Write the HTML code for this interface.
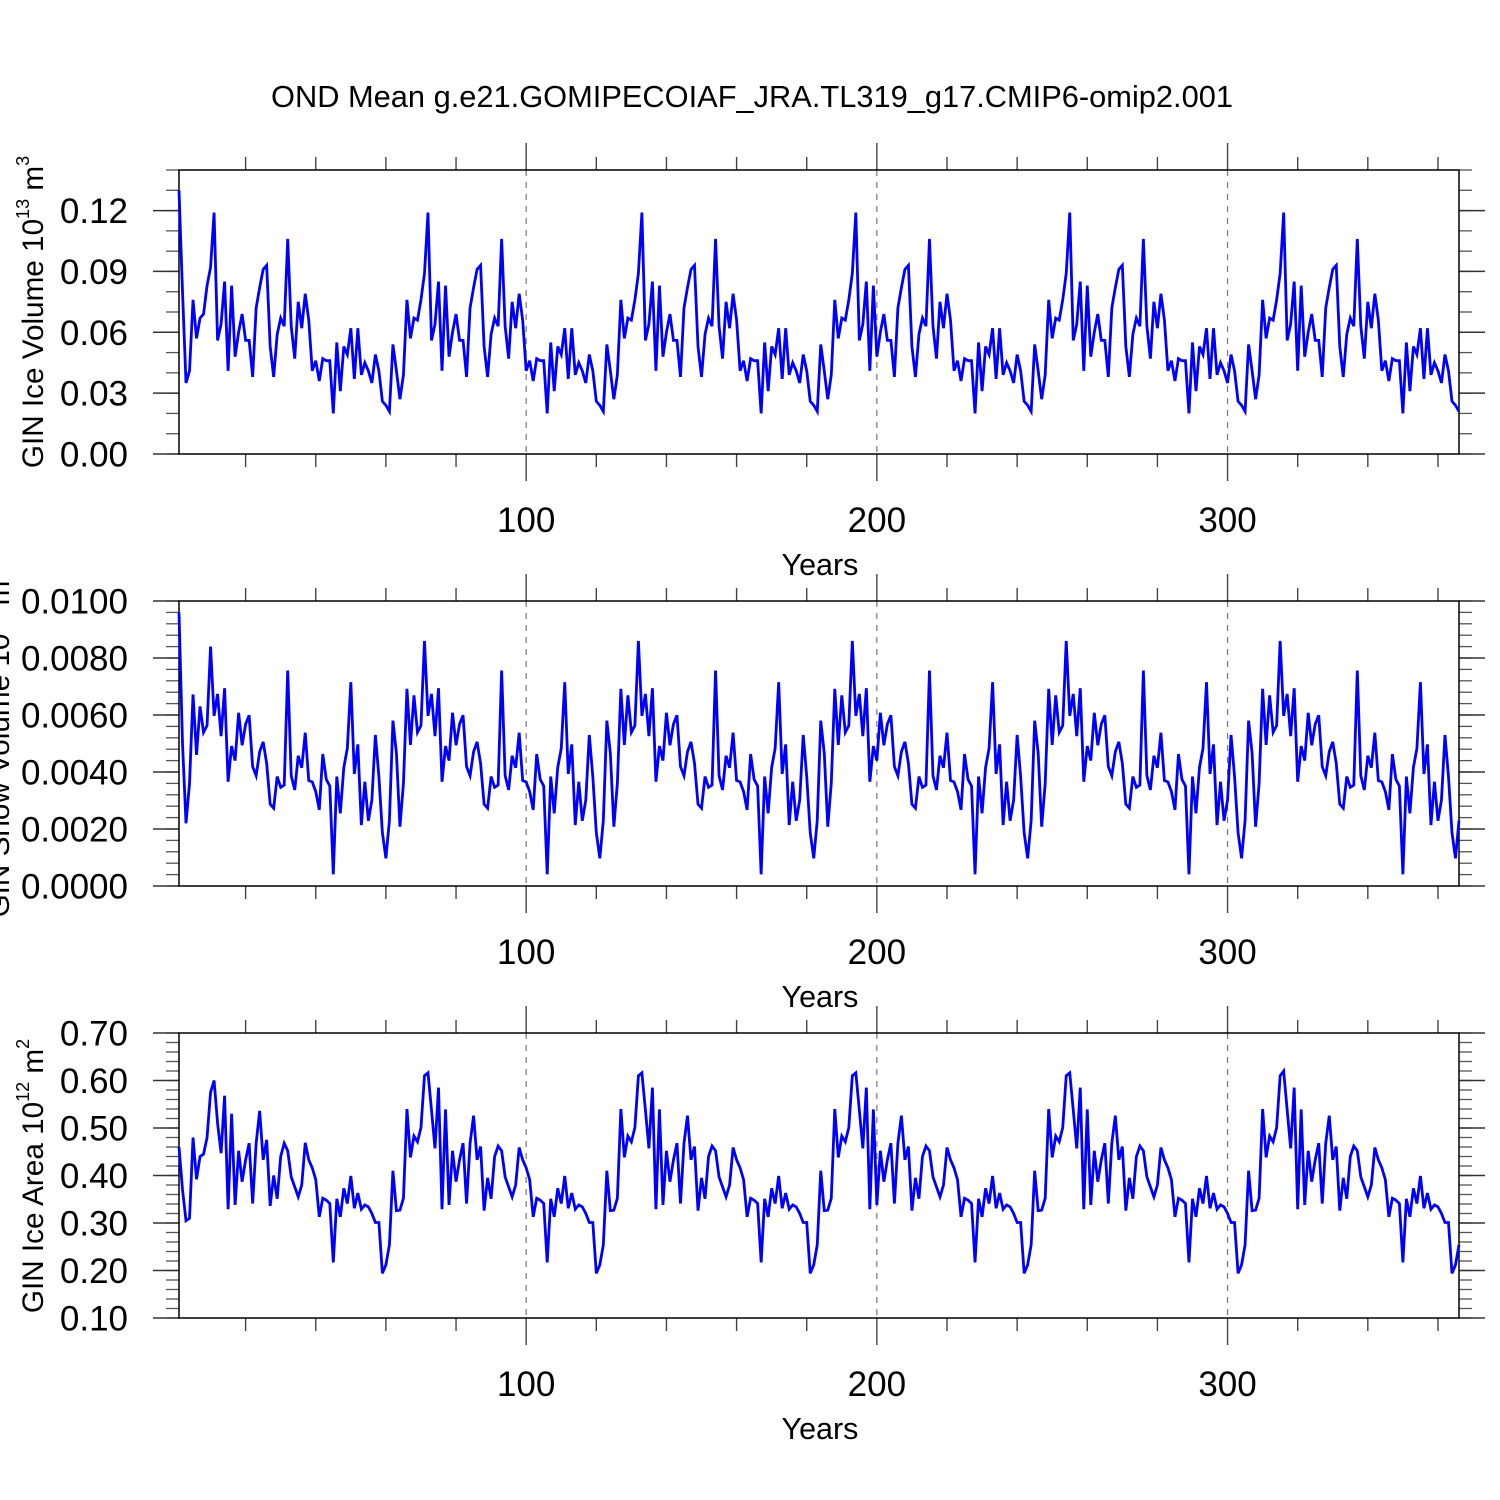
<!DOCTYPE html>
<html><head><meta charset="utf-8"><style>
html,body{margin:0;padding:0;background:#fff;}
svg{display:block;font-family:"Liberation Sans",Arial,sans-serif;}
</style></head><body>
<svg id="chart" width="1500" height="1500" viewBox="0 0 1500 1500">
<text x="752" y="107" font-size="30.8" text-anchor="middle">OND Mean g.e21.GOMIPECOIAF_JRA.TL319_g17.CMIP6-omip2.001</text>
<text transform="translate(43,312) rotate(-90)" font-size="29.7" text-anchor="middle">GIN Ice Volume 10<tspan font-size="18" dy="-14">13</tspan><tspan dy="14"> m</tspan><tspan font-size="18" dy="-14">3</tspan></text>
<text transform="translate(9,744) rotate(-90)" font-size="29.7" text-anchor="middle">GIN Snow Volume 10<tspan font-size="18" dy="-14">13</tspan><tspan dy="14"> m</tspan><tspan font-size="18" dy="-14">3</tspan></text>
<text transform="translate(43,1176) rotate(-90)" font-size="29.7" text-anchor="middle">GIN Ice Area 10<tspan font-size="18" dy="-14">12</tspan><tspan dy="14"> m</tspan><tspan font-size="18" dy="-14">2</tspan></text>
</svg>
<script>
const years = [];
for (let i = 1; i <= 366; i++) years.push(i);
const xTickLabels = [100, 200, 300];
const iceVolume = [
0.130,0.080,0.035,0.041,0.076,0.057,0.067,0.069,0.083,0.092,0.119,0.056,0.064,0.085,0.041,0.083,0.048,0.060,0.069,0.056,0.056,0.038,0.072,0.082,0.091,0.093,0.053,0.038,0.059,0.067,0.063,0.106,0.063,0.047,0.075,0.062,0.079,0.066,0.041,0.046,0.036,0.047,0.046,0.046,0.020,0.055,0.031,0.053,0.049,0.062,0.037,0.062,0.039,0.045,0.041,0.035,0.049,0.041,0.026,0.024,0.021,
0.054,0.041,0.027,0.039,0.076,0.057,0.067,0.066,0.076,0.089,0.119,0.056,0.064,0.085,0.041,0.083,0.048,0.060,0.069,0.056,0.056,0.038,0.072,0.082,0.091,0.093,0.053,0.038,0.059,0.067,0.063,0.106,0.063,0.047,0.075,0.062,0.079,0.066,0.041,0.046,0.036,0.047,0.046,0.046,0.020,0.055,0.031,0.053,0.049,0.062,0.037,0.062,0.039,0.045,0.041,0.035,0.049,0.041,0.026,0.024,0.021,
0.054,0.041,0.027,0.039,0.076,0.057,0.067,0.066,0.076,0.089,0.119,0.056,0.064,0.085,0.041,0.083,0.048,0.060,0.069,0.056,0.056,0.038,0.072,0.082,0.091,0.093,0.053,0.038,0.059,0.067,0.063,0.106,0.063,0.047,0.075,0.062,0.079,0.066,0.041,0.046,0.036,0.047,0.046,0.046,0.020,0.055,0.031,0.053,0.049,0.062,0.037,0.062,0.039,0.045,0.041,0.035,0.049,0.041,0.026,0.024,0.021,
0.054,0.041,0.027,0.039,0.076,0.057,0.067,0.066,0.076,0.089,0.119,0.056,0.064,0.085,0.041,0.083,0.048,0.060,0.069,0.056,0.056,0.038,0.072,0.082,0.091,0.093,0.053,0.038,0.059,0.067,0.063,0.106,0.063,0.047,0.075,0.062,0.079,0.066,0.041,0.046,0.036,0.047,0.046,0.046,0.020,0.055,0.031,0.053,0.049,0.062,0.037,0.062,0.039,0.045,0.041,0.035,0.049,0.041,0.026,0.024,0.021,
0.054,0.041,0.027,0.039,0.076,0.057,0.067,0.066,0.076,0.089,0.119,0.056,0.064,0.085,0.041,0.083,0.048,0.060,0.069,0.056,0.056,0.038,0.072,0.082,0.091,0.093,0.053,0.038,0.059,0.067,0.063,0.106,0.063,0.047,0.075,0.062,0.079,0.066,0.041,0.046,0.036,0.047,0.046,0.046,0.020,0.055,0.031,0.053,0.049,0.062,0.037,0.062,0.039,0.045,0.041,0.035,0.049,0.041,0.026,0.024,0.021,
0.054,0.041,0.027,0.039,0.076,0.057,0.067,0.066,0.076,0.089,0.119,0.056,0.064,0.085,0.041,0.083,0.048,0.060,0.069,0.056,0.056,0.038,0.072,0.082,0.091,0.093,0.053,0.038,0.059,0.067,0.063,0.106,0.063,0.047,0.075,0.062,0.079,0.066,0.041,0.046,0.036,0.047,0.046,0.046,0.020,0.055,0.031,0.053,0.049,0.062,0.037,0.062,0.039,0.045,0.041,0.035,0.049,0.041,0.026,0.024,0.021
];
const snowVolume = [
0.0096,0.0050,0.00220,0.0036,0.00672,0.00460,0.00630,0.00539,0.00563,0.0084,0.00597,0.00674,0.00526,0.00694,0.00366,0.00491,0.0044,0.00608,0.00494,0.00568,0.00599,0.00419,0.00387,0.00471,0.00506,0.0043,0.00287,0.00273,0.00384,0.00346,0.00354,0.00756,0.00387,0.00337,0.00457,0.00415,0.00538,0.0037,0.00365,0.00331,0.00267,0.00463,0.00374,0.00351,0.00041,0.00384,0.00255,0.00416,0.00483,0.00715,0.00393,0.00497,0.00214,0.00366,0.00229,0.00302,0.0053,0.00384,0.00187,0.00097,0.0023,
0.0058,0.00466,0.00208,0.0036,0.00692,0.00495,0.00669,0.00539,0.00563,0.0086,0.00597,0.00674,0.00526,0.00694,0.00366,0.00491,0.0044,0.00608,0.00494,0.00568,0.00599,0.00419,0.00387,0.00471,0.00506,0.0043,0.00287,0.00273,0.00384,0.00346,0.00354,0.00756,0.00387,0.00337,0.00457,0.00415,0.00538,0.0037,0.00365,0.00331,0.00267,0.00463,0.00374,0.00351,0.00041,0.00384,0.00255,0.00416,0.00483,0.00715,0.00393,0.00497,0.00214,0.00366,0.00229,0.00302,0.0053,0.00384,0.00187,0.00097,0.0023,
0.0058,0.00466,0.00208,0.0036,0.00692,0.00495,0.00669,0.00539,0.00563,0.0086,0.00597,0.00674,0.00526,0.00694,0.00366,0.00491,0.0044,0.00608,0.00494,0.00568,0.00599,0.00419,0.00387,0.00471,0.00506,0.0043,0.00287,0.00273,0.00384,0.00346,0.00354,0.00756,0.00387,0.00337,0.00457,0.00415,0.00538,0.0037,0.00365,0.00331,0.00267,0.00463,0.00374,0.00351,0.00041,0.00384,0.00255,0.00416,0.00483,0.00715,0.00393,0.00497,0.00214,0.00366,0.00229,0.00302,0.0053,0.00384,0.00187,0.00097,0.0023,
0.0058,0.00466,0.00208,0.0036,0.00692,0.00495,0.00669,0.00539,0.00563,0.0086,0.00597,0.00674,0.00526,0.00694,0.00366,0.00491,0.0044,0.00608,0.00494,0.00568,0.00599,0.00419,0.00387,0.00471,0.00506,0.0043,0.00287,0.00273,0.00384,0.00346,0.00354,0.00756,0.00387,0.00337,0.00457,0.00415,0.00538,0.0037,0.00365,0.00331,0.00267,0.00463,0.00374,0.00351,0.00041,0.00384,0.00255,0.00416,0.00483,0.00715,0.00393,0.00497,0.00214,0.00366,0.00229,0.00302,0.0053,0.00384,0.00187,0.00097,0.0023,
0.0058,0.00466,0.00208,0.0036,0.00692,0.00495,0.00669,0.00539,0.00563,0.0086,0.00597,0.00674,0.00526,0.00694,0.00366,0.00491,0.0044,0.00608,0.00494,0.00568,0.00599,0.00419,0.00387,0.00471,0.00506,0.0043,0.00287,0.00273,0.00384,0.00346,0.00354,0.00756,0.00387,0.00337,0.00457,0.00415,0.00538,0.0037,0.00365,0.00331,0.00267,0.00463,0.00374,0.00351,0.00041,0.00384,0.00255,0.00416,0.00483,0.00715,0.00393,0.00497,0.00214,0.00366,0.00229,0.00302,0.0053,0.00384,0.00187,0.00097,0.0023,
0.0058,0.00466,0.00208,0.0036,0.00692,0.00495,0.00669,0.00539,0.00563,0.0086,0.00597,0.00674,0.00526,0.00694,0.00366,0.00491,0.0044,0.00608,0.00494,0.00568,0.00599,0.00419,0.00387,0.00471,0.00506,0.0043,0.00287,0.00273,0.00384,0.00346,0.00354,0.00756,0.00387,0.00337,0.00457,0.00415,0.00538,0.0037,0.00365,0.00331,0.00267,0.00463,0.00374,0.00351,0.00041,0.00384,0.00255,0.00416,0.00483,0.00715,0.00393,0.00497,0.00214,0.00366,0.00229,0.00302,0.0053,0.00384,0.00187,0.00097,0.0023
];
const iceArea = [
0.460,0.370,0.305,0.310,0.480,0.392,0.440,0.445,0.480,0.575,0.600,0.510,0.447,0.568,0.329,0.530,0.338,0.452,0.387,0.433,0.468,0.341,0.468,0.536,0.433,0.475,0.336,0.400,0.351,0.440,0.468,0.452,0.397,0.376,0.355,0.380,0.469,0.433,0.416,0.391,0.313,0.352,0.348,0.341,0.217,0.351,0.313,0.373,0.341,0.399,0.331,0.363,0.329,0.338,0.334,0.320,0.301,0.301,0.194,0.212,0.254,
0.410,0.326,0.327,0.352,0.540,0.438,0.483,0.471,0.501,0.610,0.616,0.538,0.457,0.585,0.329,0.539,0.338,0.452,0.387,0.433,0.468,0.341,0.468,0.526,0.433,0.461,0.326,0.395,0.351,0.440,0.462,0.452,0.397,0.376,0.355,0.380,0.459,0.433,0.416,0.391,0.313,0.352,0.348,0.341,0.217,0.351,0.313,0.373,0.341,0.399,0.331,0.363,0.329,0.338,0.334,0.320,0.301,0.301,0.194,0.212,0.254,
0.410,0.326,0.327,0.352,0.540,0.438,0.483,0.471,0.501,0.610,0.616,0.538,0.457,0.585,0.329,0.539,0.338,0.452,0.387,0.433,0.468,0.341,0.468,0.526,0.433,0.461,0.326,0.395,0.351,0.440,0.462,0.452,0.397,0.376,0.355,0.380,0.459,0.433,0.416,0.391,0.313,0.352,0.348,0.341,0.217,0.351,0.313,0.373,0.341,0.399,0.331,0.363,0.329,0.338,0.334,0.320,0.301,0.301,0.194,0.212,0.254,
0.410,0.326,0.327,0.352,0.540,0.438,0.483,0.471,0.501,0.610,0.616,0.538,0.457,0.585,0.329,0.539,0.338,0.452,0.387,0.433,0.468,0.341,0.468,0.526,0.433,0.461,0.326,0.395,0.351,0.440,0.462,0.452,0.397,0.376,0.355,0.380,0.459,0.433,0.416,0.391,0.313,0.352,0.348,0.341,0.217,0.351,0.313,0.373,0.341,0.399,0.331,0.363,0.329,0.338,0.334,0.320,0.301,0.301,0.194,0.212,0.254,
0.410,0.326,0.327,0.352,0.540,0.438,0.483,0.471,0.501,0.610,0.616,0.538,0.457,0.585,0.329,0.539,0.338,0.452,0.387,0.433,0.468,0.341,0.468,0.526,0.433,0.461,0.326,0.395,0.351,0.440,0.462,0.452,0.397,0.376,0.355,0.380,0.459,0.433,0.416,0.391,0.313,0.352,0.348,0.341,0.217,0.351,0.313,0.373,0.341,0.399,0.331,0.363,0.329,0.338,0.334,0.320,0.301,0.301,0.194,0.212,0.254,
0.410,0.326,0.327,0.352,0.540,0.438,0.483,0.471,0.501,0.610,0.620,0.538,0.457,0.585,0.329,0.539,0.338,0.452,0.387,0.433,0.468,0.341,0.468,0.526,0.433,0.461,0.326,0.395,0.351,0.440,0.462,0.452,0.397,0.376,0.355,0.380,0.459,0.433,0.416,0.391,0.313,0.352,0.348,0.341,0.217,0.351,0.313,0.373,0.341,0.399,0.331,0.363,0.329,0.338,0.334,0.320,0.301,0.301,0.194,0.212,0.254
];
const iceVolumeTicks = [0.00, 0.03, 0.06, 0.09, 0.12];
const snowVolumeTicks = [0.0000, 0.0020, 0.0040, 0.0060, 0.0080, 0.0100];
const iceAreaTicks = [0.10, 0.20, 0.30, 0.40, 0.50, 0.60, 0.70];

const NS = 'http://www.w3.org/2000/svg';
const svg = document.getElementById('chart');
const X0 = 179, X1 = 1459, XMIN = 1, XMAX = 366;
function xScale(yr) { return X0 + (yr - XMIN) * (X1 - X0) / (XMAX - XMIN); }
function mk(tag, attrs, parent) {
  const e = document.createElementNS(NS, tag);
  for (const k in attrs) e.setAttribute(k, attrs[k]);
  (parent || svg).appendChild(e);
  return e;
}
const panels = [
  {key:'ice-volume', data: iceVolume, ticks: iceVolumeTicks, top:170, bot:454, ymin:0, ymax:0.14, minor:0.01, dec:2},
  {key:'snow-volume', data: snowVolume, ticks: snowVolumeTicks, top:601, bot:886, ymin:0, ymax:0.01, minor:0.0004, dec:4},
  {key:'ice-area', data: iceArea, ticks: iceAreaTicks, top:1033, bot:1318, ymin:0.1, ymax:0.7, minor:0.02, dec:2}
];
panels.forEach(p => {
  const g = mk('g', {});
  
  
  const yScale = v => p.bot - (v - p.ymin) * (p.bot - p.top) / (p.ymax - p.ymin);
  xTickLabels.forEach(t => {
    const l = mk('line', {x1:xScale(t), x2:xScale(t), y1:p.top, y2:p.bot, stroke:'#777', 'stroke-width':1.2, 'stroke-dasharray':'6,6'}, g);
    
    
  });
  const n = Math.round((p.ymax - p.ymin) / p.minor);
  for (let i = 0; i <= n; i++) {
    const y = yScale(p.ymin + i * p.minor);
    mk('line', {x1:X0 - 13, x2:X0, y1:y, y2:y, stroke:'#555', 'stroke-width':1.3}, g);
    mk('line', {x1:X1, x2:X1 + 13, y1:y, y2:y, stroke:'#555', 'stroke-width':1.3}, g);
  }
  p.ticks.forEach(v => {
    const y = yScale(v);
    mk('line', {x1:X0 - 26, x2:X0, y1:y, y2:y, stroke:'#333', 'stroke-width':1.5}, g);
    mk('line', {x1:X1, x2:X1 + 26, y1:y, y2:y, stroke:'#333', 'stroke-width':1.5}, g);
    const t = mk('text', {x:128, y:y + 12.5, 'font-size':35, 'text-anchor':'end'}, g);
    
    
    t.textContent = v.toFixed(p.dec);
  });
  for (let yr = 20; yr <= 360; yr += 20) {
    const x = xScale(yr);
    const len = (yr % 100 === 0) ? 27 : 13;
    mk('line', {x1:x, x2:x, y1:p.top - len, y2:p.top, stroke:'#444', 'stroke-width':1.4}, g);
    mk('line', {x1:x, x2:x, y1:p.bot, y2:p.bot + len, stroke:'#444', 'stroke-width':1.4}, g);
  }
  xTickLabels.forEach(t => {
    const tx = mk('text', {x:xScale(t), y:p.bot + 78, 'font-size':35, 'text-anchor':'middle'}, g);
    
    
    tx.textContent = t;
  });
  const xt = mk('text', {x:820, y:p.bot + 121, 'font-size':30.5, 'text-anchor':'middle'}, g);
  
  
  xt.textContent = 'Years';
  const fr = mk('rect', {x:X0, y:p.top, width:X1 - X0, height:p.bot - p.top, fill:'none', stroke:'#000', 'stroke-width':1.5}, g);
  
  
  const pts = p.data.map((v, i) => xScale(years[i]).toFixed(2) + ',' + yScale(v).toFixed(2)).join(' ');
  const pl = mk('polyline', {points:pts, fill:'none', stroke:'#0000ff', 'stroke-width':2.8, 'stroke-linejoin':'miter'}, g);
  
  
});
</script>
</body></html>
